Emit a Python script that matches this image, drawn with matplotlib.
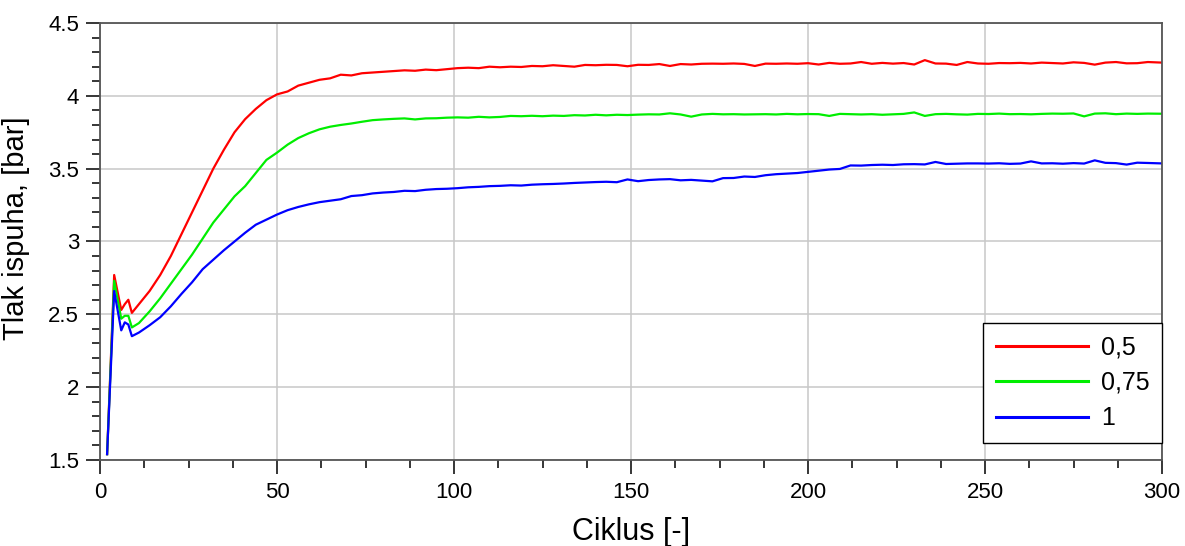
import matplotlib.pyplot as plt
from matplotlib.ticker import MultipleLocator

plt.rcParams['font.family'] = ['Liberation Sans', 'DejaVu Sans']

# ciklus
ciklus = [2, 4, 6, 7, 8, 9, 11, 14, 17, 20, 23, 26, 29, 32, 35, 38, 41, 44, 47, 50,
          53, 56, 59, 62, 65, 68, 71, 74, 77, 80, 83, 86, 89, 92, 95, 98, 101, 104,
          107, 110, 113, 116, 119, 122, 125, 128, 131, 134, 137, 140, 143, 146, 149,
          152, 155, 158, 161, 164, 167, 170, 173, 176, 179, 182, 185, 188, 191, 194,
          197, 200, 203, 206, 209, 212, 215, 218, 221, 224, 227, 230, 233, 236, 239,
          242, 245, 248, 251, 254, 257, 260, 263, 266, 269, 272, 275, 278, 281, 284,
          287, 290, 293, 296, 300]

tlak_05 = [1.54, 2.77, 2.53, 2.57, 2.60, 2.51, 2.57, 2.66, 2.77, 2.90, 3.05, 3.20, 3.35,
           3.50, 3.63, 3.75, 3.84, 3.91, 3.97, 4.01, 4.03, 4.07, 4.09, 4.11, 4.12, 4.145,
           4.14, 4.155, 4.16, 4.165, 4.17, 4.175, 4.172, 4.18, 4.176, 4.183, 4.19, 4.193,
           4.19, 4.20, 4.196, 4.20, 4.198, 4.205, 4.203, 4.21, 4.205, 4.20, 4.212, 4.21,
           4.213, 4.212, 4.203, 4.213, 4.212, 4.218, 4.205, 4.218, 4.215, 4.22, 4.221,
           4.22, 4.222, 4.219, 4.205, 4.221, 4.22, 4.222, 4.22, 4.224, 4.215, 4.226, 4.22,
           4.222, 4.232, 4.22, 4.226, 4.221, 4.225, 4.215, 4.245, 4.222, 4.221, 4.212,
           4.232, 4.222, 4.22, 4.225, 4.224, 4.226, 4.222, 4.228, 4.225, 4.222, 4.23,
           4.226, 4.214, 4.228, 4.232, 4.223, 4.224, 4.232, 4.228]

tlak_075 = [1.54, 2.73, 2.47, 2.49, 2.49, 2.41, 2.44, 2.52, 2.61, 2.71, 2.81, 2.91, 3.02,
            3.13, 3.22, 3.31, 3.38, 3.47, 3.56, 3.61, 3.665, 3.71, 3.743, 3.77, 3.788,
            3.80, 3.81, 3.822, 3.833, 3.838, 3.842, 3.845, 3.838, 3.845, 3.846, 3.85,
            3.852, 3.85, 3.856, 3.852, 3.855, 3.862, 3.86, 3.863, 3.86, 3.864, 3.862,
            3.867, 3.865, 3.87, 3.866, 3.87, 3.868, 3.871, 3.873, 3.872, 3.88, 3.872,
            3.857, 3.872, 3.876, 3.873, 3.874, 3.872, 3.873, 3.874, 3.872, 3.876, 3.873,
            3.875, 3.874, 3.862, 3.876, 3.874, 3.872, 3.874, 3.87, 3.873, 3.876, 3.886,
            3.862, 3.874, 3.876, 3.873, 3.871, 3.876, 3.875, 3.878, 3.874, 3.875, 3.873,
            3.876, 3.878, 3.877, 3.879, 3.859, 3.878, 3.88, 3.874, 3.878, 3.876, 3.878,
            3.877]

tlak_1 = [1.54, 2.66, 2.39, 2.445, 2.43, 2.35, 2.375, 2.425, 2.48, 2.555, 2.64, 2.72,
          2.81, 2.875, 2.94, 3.00, 3.06, 3.115, 3.15, 3.185, 3.215, 3.237, 3.255, 3.27,
          3.28, 3.29, 3.312, 3.318, 3.33, 3.336, 3.34, 3.348, 3.346, 3.355, 3.36, 3.362,
          3.366, 3.372, 3.375, 3.38, 3.382, 3.386, 3.384, 3.39, 3.393, 3.395, 3.398,
          3.402, 3.405, 3.408, 3.41, 3.407, 3.426, 3.414, 3.422, 3.426, 3.428, 3.42,
          3.423, 3.418, 3.413, 3.435, 3.436, 3.446, 3.443, 3.455, 3.462, 3.466, 3.47,
          3.478, 3.486, 3.494, 3.498, 3.522, 3.521, 3.525, 3.527, 3.525, 3.53, 3.531,
          3.529, 3.546, 3.532, 3.534, 3.536, 3.536, 3.535, 3.537, 3.533, 3.535, 3.55,
          3.536, 3.537, 3.534, 3.538, 3.535, 3.557, 3.54, 3.538, 3.528, 3.541, 3.539,
          3.536]

fig = plt.figure(figsize=(11.85, 5.46), dpi=100)
ax = fig.add_axes([0.0844, 0.1575, 0.8962, 0.8004])

ax.plot(ciklus, tlak_05, color='#ff0000', lw=1.6, label='0,5')
ax.plot(ciklus, tlak_075, color='#00ee00', lw=1.6, label='0,75')
ax.plot(ciklus, tlak_1, color='#0000ff', lw=1.6, label='1')

ax.set_xlim(0, 300)
ax.set_ylim(1.5, 4.5)
ax.xaxis.set_major_locator(MultipleLocator(50))
ax.xaxis.set_minor_locator(MultipleLocator(12.5))
ax.yaxis.set_major_locator(MultipleLocator(0.5))
ax.yaxis.set_minor_locator(MultipleLocator(0.1))
ax.set_yticks([1.5, 2, 2.5, 3, 3.5, 4, 4.5])
ax.set_yticklabels(['1.5', '2', '2.5', '3', '3.5', '4', '4.5'])

ax.grid(True, which='major', color='#c8c8c8', lw=1.1)
ax.set_axisbelow(True)

for s in ax.spines.values():
    s.set_color('#555555')
    s.set_linewidth(1.3)

ax.tick_params(which='major', direction='out', length=10, width=1.1, color='black')
ax.tick_params(which='minor', direction='out', length=5.5, width=1.1, color='black')
ax.tick_params(axis='x', labelsize=16, pad=6)
ax.tick_params(axis='y', labelsize=16, pad=5)

ax.set_xlabel('Ciklus [-]', fontsize=22, labelpad=10)
ax.set_ylabel('Tlak ispuha, [bar]', fontsize=21)
ax.yaxis.set_label_coords(-0.066, 0.53)

leg = ax.legend(loc='lower right', bbox_to_anchor=(1.0, 0.039), borderaxespad=0,
                fontsize=18, handlelength=3.7, handletextpad=0.5, labelspacing=0.46,
                borderpad=0.5, fancybox=False, framealpha=1)
leg.get_frame().set_edgecolor('black')
leg.get_frame().set_linewidth(1.0)
for line in leg.get_lines():
    line.set_linewidth(2.2)

plt.savefig('out.png', dpi=100)
